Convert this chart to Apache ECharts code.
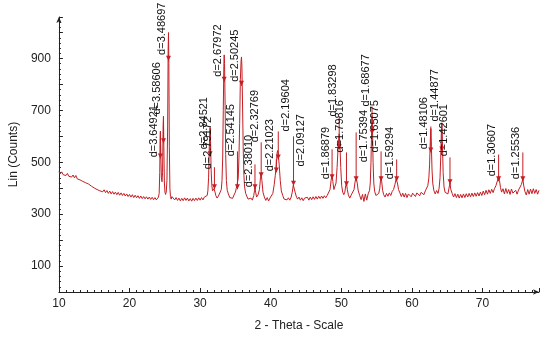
<!DOCTYPE html>
<html>
<head>
<meta charset="utf-8">
<script src="https://cdn.jsdelivr.net/npm/echarts@6/dist/echarts.min.js"></script>
<style>
    html, body { margin: 0; padding: 0; background: #fff; }
    #chart { width: 542px; height: 337px; }
</style>
</head>
<body>
<div id="chart"></div>
<script>
// diffractogram, [2-theta, counts]
var pattern = [
    [10.0, 464], [10.2, 455], [10.4, 463], [10.6, 452], [10.8, 459], [11.0, 449], [11.2, 457], [11.4, 446],
    [11.6, 453], [11.8, 443], [12.0, 451], [12.2, 440], [12.4, 449], [12.6, 436], [12.8, 441], [13.0, 432],
    [13.2, 437], [13.4, 426], [13.6, 432], [13.8, 421], [14.0, 427], [14.2, 416], [14.4, 420], [14.6, 408],
    [14.8, 413], [15.0, 401], [15.2, 406], [15.4, 395], [15.6, 401], [15.8, 390], [16.0, 396], [16.2, 386],
    [16.4, 394], [16.6, 383], [16.8, 391], [17.0, 380], [17.2, 389], [17.4, 378], [17.6, 387], [17.8, 377],
    [18.0, 385], [18.2, 375], [18.4, 384], [18.6, 373], [18.8, 382], [19.0, 372], [19.2, 380], [19.4, 370],
    [19.6, 378], [19.8, 368], [20.0, 376], [20.2, 366], [20.4, 375], [20.6, 364], [20.8, 373], [21.0, 363],
    [21.2, 371], [21.4, 361], [21.6, 370], [21.8, 360], [22.0, 368], [22.2, 359], [22.4, 367], [22.6, 358],
    [22.8, 366], [23.0, 357], [23.2, 365], [23.4, 356], [23.6, 364], [23.8, 355], [24.0, 362],
    [24.1, 366], [24.2, 380], [24.28, 460], [24.34, 590], [24.38, 620], [24.44, 520], [24.52, 440], [24.6, 425],
    [24.68, 460], [24.76, 640], [24.81, 677], [24.86, 560], [24.94, 420], [25.02, 385], [25.1, 376], [25.2, 385],
    [25.3, 430], [25.4, 640], [25.47, 930], [25.52, 1000], [25.57, 880], [25.64, 560], [25.72, 400], [25.8, 368],
    [25.9, 358], [26.0, 368], [26.2, 366], [26.4, 355], [26.6, 364], [26.8, 353], [27.0, 362], [27.2, 351],
    [27.4, 361], [27.6, 352], [27.8, 363], [28.0, 353], [28.2, 362], [28.4, 351], [28.6, 360], [28.8, 350],
    [29.0, 361], [29.2, 352], [29.4, 362], [29.6, 353], [29.8, 363], [30.0, 354], [30.2, 364], [30.4, 355],
    [30.6, 366], [30.8, 360], [31.0, 372], [31.1, 390], [31.2, 440], [31.3, 560], [31.38, 620], [31.42, 633],
    [31.48, 580], [31.56, 470], [31.66, 410], [31.76, 390], [31.86, 385], [31.96, 398], [32.03, 405], [32.12, 385],
    [32.22, 372], [32.4, 362], [32.6, 370], [32.8, 375], [33.0, 395], [33.1, 430], [33.2, 520], [33.28, 700],
    [33.36, 870], [33.41, 914], [33.46, 880], [33.54, 720], [33.62, 530], [33.72, 430], [33.84, 392], [34.0, 378],
    [34.2, 364], [34.4, 370], [34.6, 361], [34.8, 374], [35.0, 385], [35.12, 400], [35.22, 410], [35.3, 415],
    [35.4, 440], [35.5, 520], [35.6, 650], [35.7, 820], [35.8, 890], [35.86, 906], [35.92, 870], [36.0, 740],
    [36.1, 560], [36.2, 450], [36.3, 405], [36.45, 380], [36.6, 370], [36.8, 358], [37.0, 352], [37.2, 362],
    [37.4, 354], [37.6, 372], [37.7, 390], [37.78, 402], [37.86, 385], [38.0, 366], [38.2, 374], [38.4, 395],
    [38.55, 440], [38.65, 455], [38.75, 430], [38.9, 385], [39.1, 366], [39.3, 353], [39.5, 364], [39.7, 351],
    [39.9, 362], [40.1, 366], [40.3, 380], [40.5, 415], [40.65, 450], [40.79, 490], [40.9, 535], [40.98, 545],
    [41.07, 530], [41.2, 490], [41.35, 430], [41.5, 390], [41.7, 372], [41.9, 358], [42.1, 364], [42.3, 355],
    [42.5, 363], [42.7, 354], [42.9, 366], [43.05, 385], [43.2, 412], [43.3, 408], [43.45, 385], [43.6, 370],
    [43.8, 358], [44.0, 366], [44.2, 354], [44.4, 363], [44.6, 352], [44.8, 362], [45.0, 355], [45.2, 365],
    [45.4, 354], [45.6, 366], [45.8, 356], [46.0, 367], [46.2, 357], [46.4, 368], [46.6, 358], [46.8, 369],
    [47.0, 360], [47.2, 370], [47.4, 361], [47.6, 371], [47.8, 363], [48.0, 372], [48.2, 375], [48.4, 395],
    [48.55, 430], [48.69, 452], [48.8, 425], [48.95, 395], [49.1, 392], [49.25, 420], [49.4, 480], [49.55, 560],
    [49.7, 610], [49.8, 570], [49.92, 480], [50.05, 410], [50.2, 385], [50.35, 375], [50.5, 385], [50.62, 410],
    [50.73, 420], [50.85, 395], [51.0, 374], [51.2, 362], [51.4, 374], [51.6, 378], [51.8, 395], [51.95, 425],
    [52.1, 442], [52.25, 420], [52.4, 390], [52.6, 372], [52.8, 356], [53.0, 376], [53.2, 349], [53.4, 378],
    [53.6, 354], [53.8, 378], [54.0, 392], [54.1, 420], [54.2, 500], [54.28, 610], [54.35, 680], [54.42, 620],
    [54.5, 500], [54.6, 420], [54.72, 388], [54.9, 372], [55.1, 368], [55.3, 380], [55.45, 400], [55.55, 430],
    [55.63, 445], [55.72, 425], [55.85, 392], [56.0, 375], [56.2, 366], [56.4, 380], [56.6, 369], [56.8, 382],
    [57.0, 372], [57.2, 387], [57.4, 395], [57.6, 415], [57.75, 435], [57.84, 442], [57.95, 420], [58.1, 395],
    [58.3, 382], [58.5, 368], [58.7, 381], [58.9, 366], [59.1, 380], [59.3, 364], [59.5, 378], [59.7, 383],
    [59.9, 367], [60.1, 381], [60.3, 385], [60.5, 368], [60.7, 382], [60.9, 387], [61.1, 371], [61.3, 384],
    [61.5, 390], [61.7, 375], [61.9, 390], [62.1, 395], [62.25, 410], [62.4, 440], [62.5, 490], [62.6, 580],
    [62.68, 630], [62.76, 560], [62.85, 470], [62.95, 420], [63.1, 392], [63.3, 378], [63.5, 391], [63.7, 380],
    [63.85, 400], [63.98, 440], [64.08, 520], [64.16, 610], [64.24, 650], [64.32, 580], [64.42, 460], [64.55, 405],
    [64.7, 384], [64.9, 391], [65.1, 378], [65.25, 400], [65.39, 420], [65.5, 396], [65.7, 380], [65.9, 366],
    [66.1, 379], [66.3, 364], [66.5, 377], [66.7, 362], [66.9, 376], [67.1, 363], [67.3, 378], [67.5, 364],
    [67.7, 379], [67.9, 366], [68.1, 380], [68.3, 367], [68.5, 381], [68.7, 368], [68.9, 382], [69.1, 369],
    [69.3, 383], [69.5, 370], [69.7, 385], [69.9, 372], [70.1, 389], [70.3, 375], [70.5, 392], [70.7, 377],
    [70.9, 394], [71.1, 380], [71.3, 396], [71.5, 383], [71.7, 399], [71.9, 410], [72.1, 428], [72.28, 448],
    [72.4, 430], [72.55, 402], [72.7, 385], [72.9, 398], [73.1, 378], [73.3, 399], [73.5, 380], [73.7, 395],
    [73.9, 376], [74.1, 397], [74.3, 381], [74.5, 374], [74.7, 392], [74.9, 377], [75.1, 393], [75.3, 398],
    [75.5, 414], [75.71, 435], [75.85, 408], [76.0, 388], [76.2, 374], [76.4, 395], [76.6, 377], [76.8, 397],
    [77.0, 379], [77.2, 398], [77.4, 380], [77.6, 395], [77.8, 377], [78.0, 392]
];

// peak labels: position, stick top, arrow tip and where the text starts (counts)
var peakLabels = ['d=3.64921', 'd=3.58606', 'd=3.48697', 'd=2.84521', 'd=2.79172', 'd=2.67972', 'd=2.54145',
    'd=2.50245', 'd=2.38010', 'd=2.32769', 'd=2.21023', 'd=2.19604', 'd=2.09127', 'd=1.86879', 'd=1.83298',
    'd=1.79816', 'd=1.75394', 'd=1.68677', 'd=1.65075', 'd=1.59294', 'd=1.48106', 'd=1.44877', 'd=1.42601',
    'd=1.30607', 'd=1.25536'];
var peakTheta = [24.37, 24.81, 25.52, 31.42, 32.03, 33.41, 35.29, 35.86, 37.77, 38.65, 40.79, 41.07, 43.23,
    48.69, 49.70, 50.73, 52.10, 54.35, 55.63, 57.84, 62.68, 64.24, 65.39, 72.28, 75.71];
var stickTop = [619, 676, 914, 634, 481, 830, 542, 810, 492, 577, 511, 619, 600, 550, 676, 538, 615, 715,
    542, 511, 638, 653, 519, 530, 538];
var arrowCounts = [515, 573, 891, 523, 396, 810, 396, 795, 396, 442, 461, 511, 410, 435, 550, 408, 427, 607,
    427, 427, 538, 542, 415, 427, 427];
var textStart = [519, 684, 914, 550, 473, 830, 523, 810, 404, 577, 465, 619, 484, 435, 676, 538, 500, 715,
    538, 435, 550, 657, 523, 446, 435];
// these few sit on the right of their stick
var rightLabels = ['d=2.19604', 'd=2.09127', 'd=1.75394'];

var xTicks = [10, 20, 30, 40, 50, 60, 70];
var yTicks = [100, 300, 500, 700, 900];

var red = '#c41e24';
var axisColor = '#222';
var font = '"Liberation Sans", Arial, sans-serif';

var peakData = [];
for (var i = 0; i < peakTheta.length; i++) {
    peakData.push([peakTheta[i], stickTop[i], arrowCounts[i], textStart[i]]);
}

function renderPeak(params, api) {
    var i = params.dataIndex;
    var x = api.value(0);
    var top = api.coord([x, api.value(1)]);
    var tip = api.coord([x, api.value(2)]);
    var base = api.coord([x, api.value(3)]);
    var onRight = rightLabels.indexOf(peakLabels[i]) >= 0;
    return {
        type: 'group',
        children: [{
            type: 'line',
            shape: { x1: top[0], y1: top[1], x2: tip[0], y2: tip[1] },
            style: { stroke: red, lineWidth: 1 }
        }, {
            type: 'polygon',
            shape: { points: [[tip[0] - 2.5, tip[1] - 5], [tip[0] + 2.5, tip[1] - 5], [tip[0], tip[1]]] },
            style: { fill: red }
        }, {
            type: 'text',
            x: base[0] + (onRight ? 2 : -1),
            y: base[1],
            rotation: Math.PI / 2,
            style: {
                text: peakLabels[i],
                font: '11px ' + font,
                fill: '#111',
                align: 'left',
                verticalAlign: onRight ? 'top' : 'bottom'
            }
        }]
    };
}

var dom = document.getElementById('chart');
var myChart = echarts.init(dom);
var option = {
    animation: false,
    grid: {
        left: 48,
        right: 2,
        top: 17,
        bottom: 44
    },
    xAxis: {
        type: 'value',
        min: 10,
        max: 78,
        interval: 10,
        name: '2 - Theta - Scale',
        nameLocation: 'middle',
        nameGap: 28,
        nameTextStyle: { fontFamily: font, fontSize: 12, color: axisColor },
        axisLine: {
            onZero: false,
            symbol: ['none', 'arrow'],
            symbolSize: [4, 6],
            lineStyle: { color: axisColor, width: 1 }
        },
        axisTick: { inside: true, length: 4, lineStyle: { color: axisColor } },
        minorTick: { show: true, splitNumber: 10, length: 2, lineStyle: { color: axisColor } },
        axisLabel: {
            margin: 6,
            fontFamily: font,
            fontSize: 12,
            color: axisColor,
            formatter: function (v) {
                return xTicks.indexOf(v) >= 0 ? String(v) : '';
            }
        },
        splitLine: { show: false }
    },
    yAxis: {
        type: 'value',
        min: 0,
        max: 1060,
        interval: 100,
        name: 'Lin (Counts)',
        nameLocation: 'middle',
        nameGap: 32,
        nameTextStyle: { fontFamily: font, fontSize: 12, color: axisColor },
        axisLine: {
            show: true,
            symbol: ['none', 'arrow'],
            symbolSize: [4, 6],
            lineStyle: { color: axisColor, width: 1 }
        },
        axisTick: { show: true, inside: true, length: 4, lineStyle: { color: axisColor } },
        minorTick: { show: true, splitNumber: 5, length: 2, lineStyle: { color: axisColor } },
        axisLabel: {
            margin: 8,
            fontFamily: font,
            fontSize: 12,
            color: axisColor,
            formatter: function (v) {
                return yTicks.indexOf(v) >= 0 ? String(v) : '';
            }
        },
        splitLine: { show: false }
    },
    series: [{
        type: 'line',
        data: pattern,
        showSymbol: false,
        symbol: 'none',
        lineStyle: { color: red, width: 1 },
        z: 2
    }, {
        type: 'custom',
        data: peakData,
        renderItem: renderPeak,
        encode: { x: 0, y: [1, 2, 3] },
        clip: false,
        z: 3
    }]
};
myChart.setOption(option, true);
window.onresize = myChart.resize;
</script>
</body>
</html>
